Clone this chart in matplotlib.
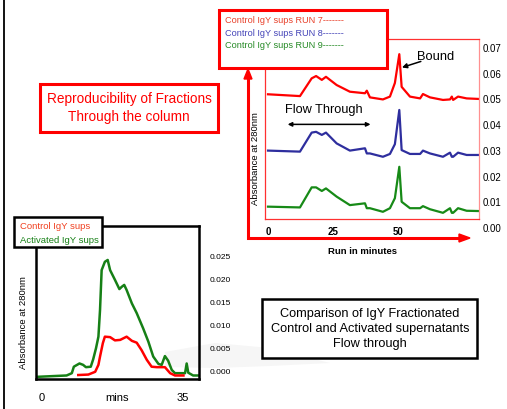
import matplotlib
matplotlib.use("Agg")
import matplotlib.pyplot as plt
from matplotlib.patches import Rectangle, Polygon
from matplotlib.transforms import blended_transform_factory

plt.rcParams['font.family'] = ['Liberation Sans', 'DejaVu Sans']

W, H = 507, 409

# ---- top-right chart: three control runs (minutes, absorbance at 280nm)
run_minutes = [0, 12.3, 16.8, 18.5, 20.7, 22.3, 26.4, 31.5, 37.3, 38.0, 39.2, 44.2, 46.9,
               48.8, 50.5, 51.4, 54.6, 58.5, 59.6, 62.3, 67.3, 70.0, 70.7, 71.2, 73.1, 76.4, 80.8]
run7 = [0.0524, 0.0517, 0.0586, 0.0595, 0.0580, 0.0592, 0.0560, 0.0534, 0.0528, 0.0538, 0.0512,
        0.0504, 0.0515, 0.0568, 0.0680, 0.0553, 0.0515, 0.0508, 0.0525, 0.0512, 0.0502, 0.0504,
        0.0515, 0.0502, 0.0515, 0.0508, 0.0506]
run8 = [0.0305, 0.0301, 0.0375, 0.0378, 0.0366, 0.0375, 0.0333, 0.0305, 0.0314, 0.0294, 0.0294,
        0.0281, 0.0292, 0.0330, 0.0463, 0.0307, 0.0292, 0.0292, 0.0305, 0.0294, 0.0281, 0.0297,
        0.0281, 0.0281, 0.0297, 0.0288, 0.0288]
run9 = [0.0087, 0.0084, 0.0162, 0.0162, 0.0148, 0.0158, 0.0126, 0.0093, 0.0100, 0.0081, 0.0081,
        0.0067, 0.0081, 0.0120, 0.0242, 0.0106, 0.0081, 0.0081, 0.0089, 0.0077, 0.0063, 0.0081,
        0.0063, 0.0063, 0.0081, 0.0071, 0.0070]
run_labels = ["Control IgY sups RUN 7-------", "Control IgY sups RUN 8-------",
              "Control IgY sups RUN 9-------"]
run_yticks = [0.00, 0.01, 0.02, 0.03, 0.04, 0.05, 0.06, 0.07]
run_xticks = [0, 25, 50]

# ---- bottom-left chart: flow through, control vs activated
act_minutes = [-1.5, 6.1, 7.4, 7.9, 9.3, 10.2, 10.9, 12.1, 12.7, 13.4, 14.0, 14.4, 14.8, 15.6,
               16.3, 16.9, 18.1, 19.2, 19.8, 20.4, 21.0, 22.3, 23.5, 25.1, 26.4, 27.6, 28.9,
               29.7, 30.5, 31.3, 32.2, 33.0, 35.5, 35.9, 36.3, 37.5, 38.8]
activated = [-0.0009, -0.0006, -0.0001, 0.0013, 0.0020, 0.0017, 0.0012, 0.0013, 0.0029, 0.0053,
             0.0078, 0.0136, 0.0222, 0.0240, 0.0244, 0.0222, 0.0201, 0.0181, 0.0186, 0.0190,
             0.0179, 0.0150, 0.0129, 0.0096, 0.0067, 0.0035, 0.0019, 0.0017, 0.0036, 0.0026,
             0.0006, -0.0001, -0.0001, 0.0020, 0.0000, -0.0006, -0.0006]
ctl_minutes = [9.0, 11.5, 13.2, 14.0, 14.4, 15.1, 15.6, 16.9, 18.1, 19.4, 21.0, 22.3, 23.5,
               24.7, 26.0, 27.2, 28.5, 30.5, 31.8, 33.0, 35.1]
control = [-0.0005, -0.0004, 0.0002, 0.0017, 0.0035, 0.0064, 0.0078, 0.0077, 0.0070, 0.0071,
           0.0078, 0.0069, 0.0065, 0.0049, 0.0028, 0.0013, 0.0012, 0.0012, -0.0001, -0.0006,
           -0.0006]
ft_labels = ["Control IgY sups", "Activated IgY sups"]
ft_yticks = [0.000, 0.005, 0.010, 0.015, 0.020, 0.025]
ft_xticks = [0, 35]


def fx(x):
    return x / W


def fy(y):
    return 1 - y / H


def px_axes(fig, l, t, r, b):
    return fig.add_axes([fx(l), fy(b), (r - l) / W, (b - t) / H])


fig = plt.figure(figsize=(W / 100, H / 100), dpi=100)

# faint grey swoosh in the background
sw = [(165, 352), (215, 343), (270, 348), (330, 363), (270, 366), (215, 368), (165, 367)]
fig.patches.append(Polygon([(fx(a), fy(b)) for a, b in sw], closed=True, transform=fig.transFigure,
                           facecolor='#f6f6f6', edgecolor='none', zorder=-5))

# left slide border
fig.add_artist(plt.Line2D([fx(4), fx(4)], [0, 1], color='black', lw=1.3))

# ================= top-right chart
ax = px_axes(fig, 265, 39, 479, 219)
ax.set_facecolor('none')
for c, ys in zip(['#ff0000', '#2e2e9e', '#178a17'], [run7, run8, run9]):
    ax.plot(run_minutes, ys, color=c, lw=1.6, solid_joinstyle='round')
ax.set_xlim(-1.15, 81.15)
ax.set_ylim(0.0039, 0.0739)
ax.set_xticks([])
ax.set_yticks([])
for s in ax.spines.values():
    s.set_color('#ff3030')
    s.set_linewidth(0.9)
ax.spines['right'].set_color('#ff9090')
tr = blended_transform_factory(ax.transAxes, ax.transData)
for v in run_yticks:
    ax.text(1.018, v, f"{v:.2f}", transform=tr, ha='left', va='center', fontsize=7, clip_on=False)
trx = blended_transform_factory(ax.transData, ax.transAxes)
for v in run_xticks:
    ax.text(v, -0.072, str(v), transform=trx, ha='center', va='center', fontsize=7,
            fontweight='bold', clip_on=False)
ax.annotate("", xy=(50.5, 0.0625), xytext=(59.8, 0.0655),
            arrowprops=dict(arrowstyle='-|>', color='black', lw=1.1, mutation_scale=7))
ax.text(64.5, 0.0668, "Bound", ha='center', va='center', fontsize=9.3)
ax.annotate("", xy=(6.5, 0.0407), xytext=(40.5, 0.0407),
            arrowprops=dict(arrowstyle='<|-|>', color='black', lw=1.1, mutation_scale=6))
ax.text(21.5, 0.0463, "Flow Through", ha='center', va='center', fontsize=9.2)

# big red axis arrows
fig.add_artist(plt.Line2D([fx(248), fx(248), fx(462)], [fy(74), fy(238), fy(238)],
                          color='#ff0000', lw=2.2, solid_joinstyle='miter'))
fig.patches.append(Polygon([(fx(244), fy(79)), (fx(248), fy(69)), (fx(252), fy(79))],
                           closed=True, transform=fig.transFigure, color='#ff0000'))
fig.patches.append(Polygon([(fx(459), fy(234)), (fx(470), fy(238)), (fx(459), fy(242))],
                           closed=True, transform=fig.transFigure, color='#ff0000'))
fig.text(fx(362), fy(252), "Run in minutes", ha='center', va='center', fontsize=6.8,
         fontweight='bold')
fig.text(fx(255), fy(159), "Absorbance at 280nm", ha='center', va='center', rotation=90,
         fontsize=6.8)

# legend box for runs
fig.patches.append(Rectangle((fx(219), fy(68)), (387 - 219) / W, (68 - 10) / H,
                             transform=fig.transFigure, facecolor='white', edgecolor='#ff0000',
                             lw=2.2, zorder=3))
for i, (lab, c) in enumerate(zip(run_labels, ['#e8402a', '#4444b8', '#258a25'])):
    fig.text(fx(225), fy(20.5 + i * 12.6), lab, color=c, ha='left', va='center', fontsize=6.6,
             zorder=4)

# title box
fig.patches.append(Rectangle((fx(40), fy(132)), (218 - 40) / W, (132 - 84) / H,
                             transform=fig.transFigure, facecolor='white', edgecolor='#ff0000',
                             lw=2.2, zorder=3))
fig.text(fx(129), fy(108), "Reproducibility of Fractions\nThrough the column", color='#ff0000',
         ha='center', va='center', fontsize=9.8, linespacing=1.45, zorder=4)

# ================= bottom-left chart
bx = px_axes(fig, 36, 226, 199, 379)
bx.set_facecolor('none')
bx.plot(act_minutes, activated, color='#168016', lw=1.8)
bx.plot(ctl_minutes, control, color='#ff0000', lw=1.8)
bx.set_xlim(-1.49, 38.96)
bx.set_ylim(-0.00136, 0.03175)
bx.set_xticks([])
bx.set_yticks([])
for s in bx.spines.values():
    s.set_color('black')
    s.set_linewidth(1.8)
tr = blended_transform_factory(bx.transAxes, bx.transData)
for v in ft_yticks:
    bx.text(1.067, v, f"{v:.3f}", transform=tr, ha='left', va='center', fontsize=6,
            clip_on=False)
trx = blended_transform_factory(bx.transData, bx.transAxes)
for v in ft_xticks:
    bx.text(v, -0.124, str(v), transform=trx, ha='center', va='center', fontsize=8, clip_on=False)
bx.text(0.5, -0.124, "mins", transform=bx.transAxes, ha='center', va='center', fontsize=8)
fig.text(fx(24), fy(323), "Absorbance at 280nm", ha='center', va='center', rotation=90,
         fontsize=6.8)

fig.patches.append(Rectangle((fx(14), fy(247)), (102 - 14) / W, (247 - 217) / H,
                             transform=fig.transFigure, facecolor='white', edgecolor='black',
                             lw=1.8, zorder=3))
for i, (lab, c) in enumerate(zip(ft_labels, ['#f04020', '#168016'])):
    fig.text(fx(20), fy(226.5 + i * 14), lab, color=c, ha='left', va='center', fontsize=6.8,
             zorder=4)

# comparison box
fig.patches.append(Rectangle((fx(262), fy(358)), (477 - 262) / W, (358 - 299) / H,
                             transform=fig.transFigure, facecolor='white', edgecolor='black',
                             lw=1.8, zorder=3))
fig.text(fx(370), fy(329), "Comparison of IgY Fractionated\nControl and Activated supernatants\nFlow through",
         ha='center', va='center', fontsize=9.2, linespacing=1.3, zorder=4)

fig.savefig("out.png", dpi=100)
